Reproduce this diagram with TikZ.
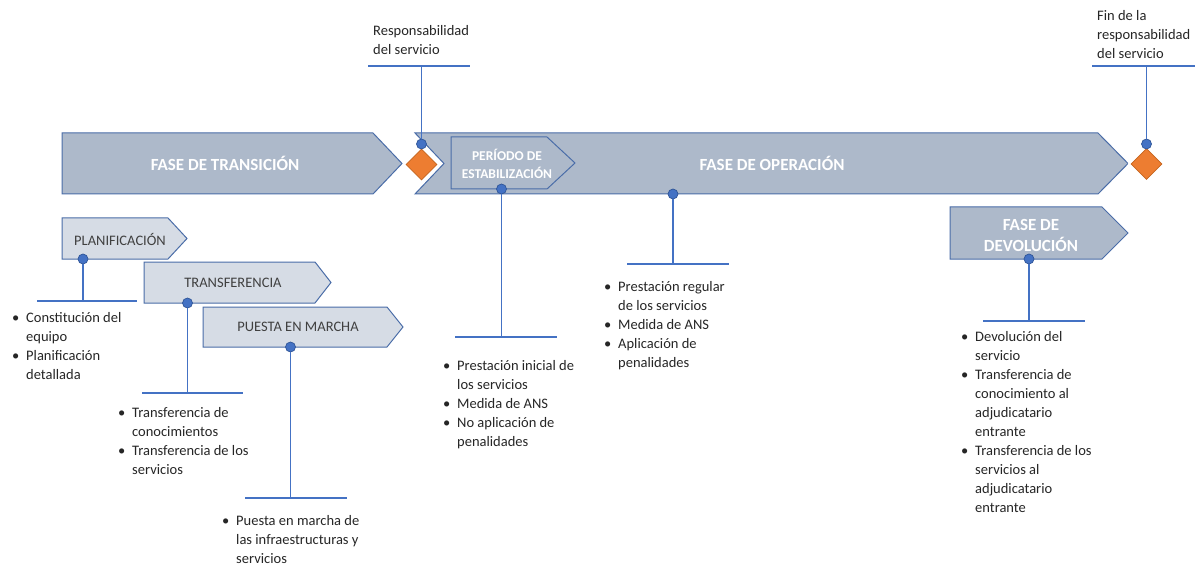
\documentclass[tikz,border=0pt]{standalone}
\usepackage{fontspec}
\setmainfont{Carlito}
\usetikzlibrary{shapes.geometric}
\definecolor{bigfill}{HTML}{ADB9CA}
\definecolor{smallfill}{HTML}{D6DCE5}
\definecolor{edgeblue}{HTML}{4A6DA8}
\definecolor{connblue}{HTML}{4472C4}
\definecolor{dotedge}{HTML}{2F5597}
\definecolor{dia}{HTML}{ED7D31}
\definecolor{diaedge}{HTML}{C5651F}
\definecolor{txt}{HTML}{262626}
\definecolor{smalltxt}{HTML}{404040}
\tikzset{
 bigchev/.style={fill=bigfill, draw=edgeblue, line width=1pt},
 smallchev/.style={fill=smallfill, draw=edgeblue, line width=1pt},
 bigtitle/.style={text=white, font=\fontsize{17}{21}\selectfont\bfseries, align=center, inner sep=0},
 midtitle/.style={text=white, font=\fontsize{13.5}{18}\selectfont\bfseries, align=center, inner sep=0},
 subtitle/.style={text=smalltxt, font=\fontsize{14.5}{18}\selectfont, inner sep=0},
 dot/.style={circle, fill=connblue, draw=dotedge, line width=0.7pt, minimum size=10pt, inner sep=0},
 connline/.style={draw=connblue, line width=1.9pt},
 body/.style={text=txt, font=\fontsize{14.5}{19}\selectfont, align=left, anchor=north west, inner sep=0},
 milestone/.style={diamond, fill=dia, draw=diaedge, line width=0.6pt, minimum width=31pt, minimum height=31pt, inner sep=0, preaction={draw=white, line width=5pt}},
}
\newcommand{\bl}[1]{\makebox[14pt][l]{\textbullet}#1}
\newcommand{\cl}[1]{\hspace*{14pt}#1}
\newcommand{\fs}{\rule{0pt}{13pt}}
\begin{document}
\begin{tikzpicture}[x=1pt,y=-1pt]
\useasboundingbox (0,0) rectangle (1195,567);
\fill[white] (0,0) rectangle (1195,567);
% big chevrons
\draw[bigchev] (62,133) -- (373,133) -- (402,163.5) -- (373,194) -- (62,194) -- cycle;
\draw[bigchev] (415,133) -- (1098,133) -- (1128,163.5) -- (1098,194) -- (415,194) -- (444,163.5) -- cycle;
\node[bigtitle] (ttrans) at (225,163.5) {FASE DE TRANSICIÓN};
\node[bigtitle] (toper) at (772,163.5) {FASE DE OPERACIÓN};
% estabilizacion
\draw[bigchev] (451,137) -- (547,137) -- (575,163) -- (547,189) -- (451,189) -- cycle;
\node[midtitle] (testab) at (507,164) {PERÍODO DE\\ESTABILIZACIÓN};
% devolucion
\draw[bigchev] (950,207) -- (1102,207) -- (1128,233) -- (1102,259) -- (950,259) -- cycle;
\node[bigtitle] (tdevol) at (1031,235) {FASE DE\\DEVOLUCIÓN};
% small chevrons
\draw[smallchev] (62,218) -- (168,218) -- (187,238.5) -- (168,259) -- (62,259) -- cycle;
\node[subtitle] (tplan) at (120,239) {PLANIFICACIÓN};
\draw[smallchev] (144,262) -- (315,262) -- (331,282.5) -- (315,303) -- (144,303) -- cycle;
\node[subtitle] (ttransf) at (233,283) {TRANSFERENCIA};
\draw[smallchev] (203,307) -- (387,307) -- (403,327) -- (387,347) -- (203,347) -- cycle;
\node[subtitle] (tpuesta) at (298,327) {PUESTA EN MARCHA};
% milestones
\node[milestone] (m1) at (421.5,164.5) {};
\node[milestone] (m2) at (1146.5,164) {};
% connectors
\coordinate (h1) at (421.5,66); \coordinate (h1l) at (368,66); \coordinate (h1r) at (470,66);
\coordinate (h2) at (1146.5,66); \coordinate (h2l) at (1092,66); \coordinate (h2r) at (1195,66);
\coordinate (h3) at (501.5,337); \coordinate (h3l) at (455,337); \coordinate (h3r) at (557,337);
\coordinate (h4) at (673,264); \coordinate (h4l) at (627,264); \coordinate (h4r) at (729,264);
\coordinate (h5) at (1029,321); \coordinate (h5l) at (983,321); \coordinate (h5r) at (1085,321);
\coordinate (h6) at (83,301); \coordinate (h6l) at (37,301); \coordinate (h6r) at (137,301);
\coordinate (h7) at (187.5,393); \coordinate (h7l) at (142,393); \coordinate (h7r) at (243,393);
\coordinate (h8) at (290.5,498); \coordinate (h8l) at (245,498); \coordinate (h8r) at (347,498);
\foreach \i in {1,...,8} {\draw[connline] (h\i l) -- (h\i r);}
\node[dot] (d1) at (421.5,144) {};
\node[dot] (d2) at (1146.5,144) {};
\node[dot] (d3) at (501.5,189) {};
\node[dot] (d4) at (673,194) {};
\node[dot] (d5) at (1029,259) {};
\node[dot] (d6) at (83,259) {};
\node[dot] (d7) at (187.5,303) {};
\node[dot] (d8) at (290.5,347) {};
\foreach \i in {1,...,8} {\draw[connline] (d\i) -- (h\i);}
% texts
\node[body] (lresp) at (373,22) {\fs Responsabilidad\\del servicio};
\node[body] (lfin) at (1097,7) {\fs Fin de la\\responsabilidad\\del servicio};
\node[body] (bplan) at (12,309.7) {\fs\bl{Constitución del}\\\cl{equipo}\\\bl{Planificación}\\\cl{detallada}};
\node[body] (btransf) at (118,404.7) {\fs\bl{Transferencia de}\\\cl{conocimientos}\\\bl{Transferencia de los}\\\cl{servicios}};
\node[body] (bpuesta) at (222,512) {\fs\bl{Puesta en marcha de}\\\cl{las infraestructuras y}\\\cl{servicios}};
\node[body] (bestab) at (443,357) {\fs\bl{Prestación inicial de}\\\cl{los servicios}\\\bl{Medida de ANS}\\\bl{No aplicación de}\\\cl{penalidades}};
\node[body] (boper) at (604,278.7) {\fs\bl{Prestación regular}\\\cl{de los servicios}\\\bl{Medida de ANS}\\\bl{Aplicación de}\\\cl{penalidades}};
\node[body] (bdevol) at (961,328.7) {\fs\bl{Devolución del}\\\cl{servicio}\\\bl{Transferencia de}\\\cl{conocimiento al}\\\cl{adjudicatario}\\\cl{entrante}\\\bl{Transferencia de los}\\\cl{servicios al}\\\cl{adjudicatario}\\\cl{entrante}};
\end{tikzpicture}
\end{document}
